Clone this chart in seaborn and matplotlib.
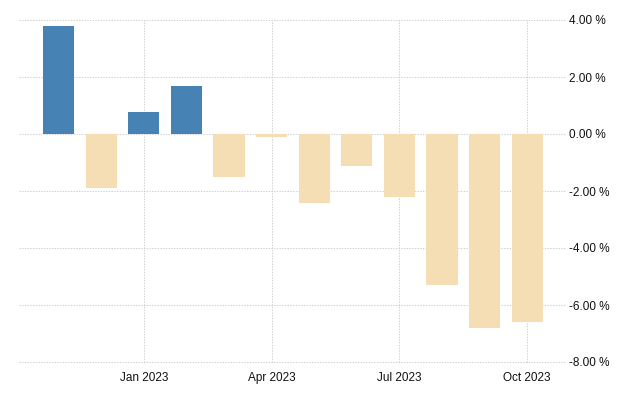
import numpy as np
import pandas as pd
import matplotlib
matplotlib.use("Agg")
import matplotlib.pyplot as plt
import seaborn as sns

# dati mensili (variazione %)
mesi = ["Nov 2022", "Dec 2022", "Jan 2023", "Feb 2023", "Mar 2023", "Apr 2023",
        "May 2023", "Jun 2023", "Jul 2023", "Aug 2023", "Sep 2023", "Oct 2023"]
valori = [3.79, -1.89, 0.77, 1.68, -1.51, -0.10, -2.42, -1.11, -2.21, -5.30, -6.79, -6.60]

tick_mesi = ["Jan 2023", "Apr 2023", "Jul 2023", "Oct 2023"]
tick_y = [-8, -6, -4, -2, 0, 2, 4]

df = pd.DataFrame({"mese": mesi, "valore": valori})
df["segno"] = np.where(df["valore"] >= 0, "pos", "neg")

sns.set_style("white")
plt.rcParams["font.family"] = ["Liberation Sans", "DejaVu Sans"]

fig = plt.figure(figsize=(6.4, 4.0), dpi=100)
ax = fig.add_axes([19 / 640, 38 / 400, (566 - 19) / 640, 342 / 400])

sns.barplot(data=df, x="mese", y="valore", hue="segno",
            palette={"pos": "#4682B4", "neg": "#F5DEB3"},
            dodge=False, width=0.73, legend=False, ax=ax, saturation=1,
            linewidth=0, edgecolor="none")

ax.set_xlim(-0.93, 11.91)
ax.set_ylim(-8, 4)
ax.set_xlabel("")
ax.set_ylabel("")

pos_tick = [mesi.index(m) for m in tick_mesi]
ax.set_xticks(pos_tick)
ax.set_xticklabels(tick_mesi, fontsize=8.5, color="#111111")
ax.set_yticks(tick_y)
ax.set_yticklabels([f"{v:.2f} %" for v in tick_y], fontsize=8.5, color="#111111")
ax.yaxis.tick_right()
ax.tick_params(axis="y", length=0, pad=2)
ax.tick_params(axis="x", length=4, color="#d0d0d0", pad=3)

ax.grid(True, axis="both", linestyle=(0, (1.3, 1.3)), color="#d0d0d0", linewidth=0.75)
ax.set_axisbelow(True)
for linea in ax.get_xgridlines() + ax.get_ygridlines():
    linea.set_clip_on(False)
for s in ax.spines.values():
    s.set_visible(False)

plt.savefig("out.png", dpi=100)
